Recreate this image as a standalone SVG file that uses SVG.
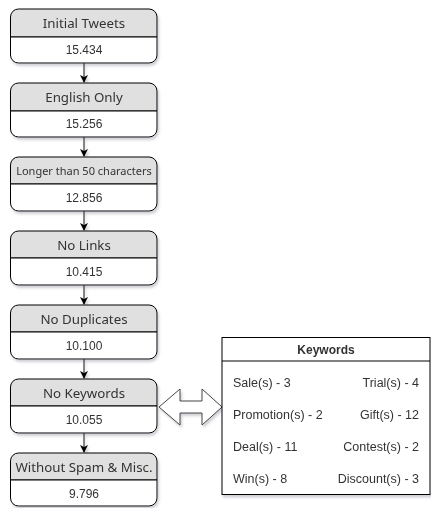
<svg xmlns="http://www.w3.org/2000/svg" width="431" height="508" viewBox="0 0 431 508">
<defs>
<filter id="sh" x="-10%" y="-10%" width="130%" height="140%">
<feDropShadow dx="1.5" dy="2.5" stdDeviation="1.2" flood-color="#667" flood-opacity="0.3"/>
</filter>
<marker id="ah" markerWidth="10" markerHeight="10" refX="8" refY="5" orient="auto" markerUnits="userSpaceOnUse">
<path d="M1,1 L9,5 L1,9 L3,5 Z" fill="#000"/>
</marker>
</defs>
<style>
.hdr{fill:#e0e0e0;stroke:#000;stroke-width:1}
.body{fill:#fff;stroke:#000;stroke-width:1}
.ht{font-family:"Noto Sans","Open Sans",sans-serif;font-size:13.3px;fill:#333;text-anchor:middle}
.vt{font-family:"Liberation Sans",Arial,sans-serif;font-size:12px;fill:#333;text-anchor:middle}
.kt{font-family:"Liberation Sans",Arial,sans-serif;font-size:12.5px;fill:#333}
.con{stroke:#000;stroke-width:1;fill:none}
</style>

<g id="connectors" filter="url(#sh)">
<line class="con" x1="84" y1="63" x2="84" y2="82" marker-end="url(#ah)"/>
<line class="con" x1="84" y1="137" x2="84" y2="156" marker-end="url(#ah)"/>
<line class="con" x1="84" y1="211" x2="84" y2="230" marker-end="url(#ah)"/>
<line class="con" x1="84" y1="285" x2="84" y2="304" marker-end="url(#ah)"/>
<line class="con" x1="84" y1="359" x2="84" y2="378" marker-end="url(#ah)"/>
<line class="con" x1="84" y1="433" x2="84" y2="452" marker-end="url(#ah)"/>
<polygon points="159,407 180,389 180,401 202,401 202,389 222,407 202,425 202,413 180,413 180,425" fill="#fff" stroke="#444" stroke-width="1"/>
</g>

<g id="n1" filter="url(#sh)">
<path class="hdr" d="M10.5,37 V17 a8,8 0 0 1 8,-8 H149 a8,8 0 0 1 8,8 V37 Z"/>
<path class="body" d="M10.5,37 H157 V55 a8,8 0 0 1 -8,8 H18.5 a8,8 0 0 1 -8,-8 Z"/>
<text class="ht" x="84" y="27.5">Initial Tweets</text>
<text class="vt" x="84" y="54">15.434</text>
</g>

<g id="n2" filter="url(#sh)">
<path class="hdr" d="M10.5,111 V91 a8,8 0 0 1 8,-8 H149 a8,8 0 0 1 8,8 V111 Z"/>
<path class="body" d="M10.5,111 H157 V129 a8,8 0 0 1 -8,8 H18.5 a8,8 0 0 1 -8,-8 Z"/>
<text class="ht" x="84" y="101.5">English Only</text>
<text class="vt" x="84" y="128">15.256</text>
</g>

<g id="n3" filter="url(#sh)">
<path class="hdr" d="M10.5,184 V165 a8,8 0 0 1 8,-8 H149 a8,8 0 0 1 8,8 V184 Z"/>
<path class="body" d="M10.5,184 H157 V203 a8,8 0 0 1 -8,8 H18.5 a8,8 0 0 1 -8,-8 Z"/>
<text class="ht" x="84" y="174.5" style="font-size:11px">Longer than 50 characters</text>
<text class="vt" x="84" y="202">12.856</text>
</g>

<g id="n4" filter="url(#sh)">
<path class="hdr" d="M10.5,258 V239 a8,8 0 0 1 8,-8 H149 a8,8 0 0 1 8,8 V258 Z"/>
<path class="body" d="M10.5,258 H157 V277 a8,8 0 0 1 -8,8 H18.5 a8,8 0 0 1 -8,-8 Z"/>
<text class="ht" x="84" y="249.5">No Links</text>
<text class="vt" x="84" y="276">10.415</text>
</g>

<g id="n5" filter="url(#sh)">
<path class="hdr" d="M10.5,332 V313 a8,8 0 0 1 8,-8 H149 a8,8 0 0 1 8,8 V332 Z"/>
<path class="body" d="M10.5,332 H157 V351 a8,8 0 0 1 -8,8 H18.5 a8,8 0 0 1 -8,-8 Z"/>
<text class="ht" x="84" y="323.5">No Duplicates</text>
<text class="vt" x="84" y="350">10.100</text>
</g>

<g id="n6" filter="url(#sh)">
<path class="hdr" d="M10.5,406 V387 a8,8 0 0 1 8,-8 H149 a8,8 0 0 1 8,8 V406 Z"/>
<path class="body" d="M10.5,406 H157 V425 a8,8 0 0 1 -8,8 H18.5 a8,8 0 0 1 -8,-8 Z"/>
<text class="ht" x="84" y="397.5">No Keywords</text>
<text class="vt" x="84" y="424">10.055</text>
</g>

<g id="n7" filter="url(#sh)">
<path class="hdr" d="M10.5,480 V461 a8,8 0 0 1 8,-8 H149 a8,8 0 0 1 8,8 V480 Z"/>
<path class="body" d="M10.5,480 H157 V498 a8,8 0 0 1 -8,8 H18.5 a8,8 0 0 1 -8,-8 Z"/>
<text class="ht" x="84" y="471.5">Without Spam &amp; Misc.</text>
<text class="vt" x="84" y="498">9.796</text>
</g>

<g id="keywords" filter="url(#sh)">
<rect x="222" y="337.5" width="208" height="157" fill="#fff" stroke="#000"/>
<line x1="222" y1="361" x2="430" y2="361" stroke="#000"/>
<text class="kt" x="326" y="354" text-anchor="middle" font-weight="bold" style="font-size:12px">Keywords</text>
<text class="kt" x="233" y="387">Sale(s) - 3</text>
<text class="kt" x="419" y="387" text-anchor="end">Trial(s) - 4</text>
<text class="kt" x="233" y="419">Promotion(s) - 2</text>
<text class="kt" x="419" y="419" text-anchor="end">Gift(s) - 12</text>
<text class="kt" x="233" y="451">Deal(s) - 11</text>
<text class="kt" x="419" y="451" text-anchor="end">Contest(s) - 2</text>
<text class="kt" x="233" y="483">Win(s) - 8</text>
<text class="kt" x="419" y="483" text-anchor="end">Discount(s) - 3</text>
</g>
</svg>
